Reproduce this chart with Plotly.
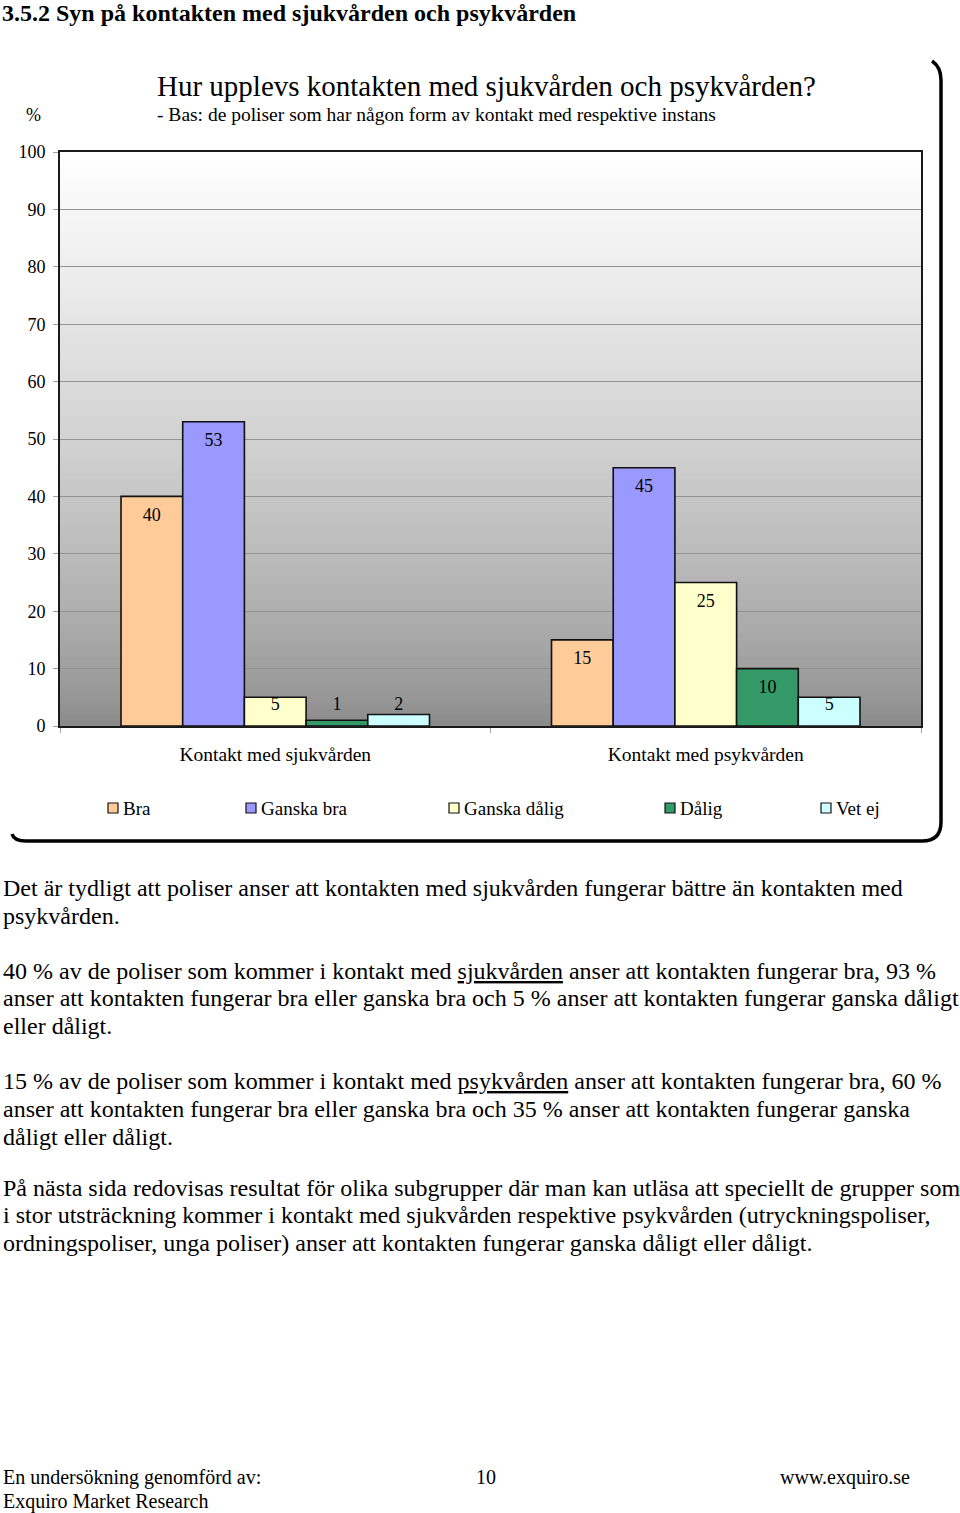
import plotly.graph_objects as go

# ---------------- data ----------------
categories = ["Kontakt med sjukvården", "Kontakt med psykvården"]
series_names = ["Bra", "Ganska bra", "Ganska dålig", "Dålig", "Vet ej"]
bra = [40, 15]
ganska_bra = [53, 45]
ganska_dalig = [5, 25]
dalig = [1, 10]
vet_ej = [2, 5]
series_values = [bra, ganska_bra, ganska_dalig, dalig, vet_ej]
y_ticks = [0, 10, 20, 30, 40, 50, 60, 70, 80, 90, 100]

colors = ["#FFCC99", "#9999FF", "#FFFFCC", "#339966", "#CCFFFF"]

W, H = 960, 1513
FONT = "Liberation Serif"


def px(x):
    return x / W


def py(y):
    return 1 - y / H


bar_w = 0.1433
cat_idx = list(range(len(categories)))

fig = go.Figure()

# bars
for i, (name, vals) in enumerate(zip(series_names, series_values)):
    off = (i - (len(series_names) - 1) / 2) * bar_w
    xs = [c + off for c in cat_idx]
    fig.add_trace(go.Bar(
        x=xs, y=vals, width=bar_w, name=name,
        marker=dict(color=colors[i], line=dict(color="#111111", width=1.6)),
        showlegend=False, hoverinfo="y+name",
    ))
    fig.add_trace(go.Scatter(
        x=xs, y=[max(v - 3.5, 3.5) for v in vals],
        mode="text", text=[str(v) for v in vals],
        textposition="middle center",
        textfont=dict(family=FONT, size=18, color="#000000"),
        showlegend=False, hoverinfo="skip",
    ))

shapes = []
# gradient background of plot area (white top -> gray bottom); overlapping bands avoid seams
nb = 100
for k in range(nb):
    v0 = 100 * k / nb
    t = (v0 + 0.5) / 100
    c = int(round(136 + 119 * t ** 0.7))
    shapes.append(dict(type="rect", xref="x domain", yref="y", x0=0, x1=1,
                       y0=v0, y1=100, fillcolor=f"rgb({c},{c},{c})",
                       line=dict(width=0), layer="below"))

# outer rounded frame (shadow edge right + bottom)
frame = (f"M {px(12)},{py(834)} Q {px(14)},{py(841)} {px(26)},{py(841)} "
         f"L {px(922)},{py(841)} Q {px(941)},{py(841)} {px(941)},{py(822)} "
         f"L {px(941)},{py(80)} Q {px(941)},{py(67)} {px(932)},{py(61)}")
shapes.append(dict(type="path", xref="paper", yref="paper", path=frame,
                   line=dict(color="#000000", width=3.5)))

# custom legend markers
legend_marker_x = [108, 246, 449, 665, 821]
legend_y = 808
for i, name in enumerate(series_names):
    shapes.append(dict(type="rect", xref="paper", yref="paper",
                       x0=px(legend_marker_x[i]), x1=px(legend_marker_x[i] + 10),
                       y0=py(legend_y + 5), y1=py(legend_y - 5),
                       fillcolor=colors[i], line=dict(color="#111111", width=1.2)))

annotations = []


def txt(x, y, s, size, bold=False, anchor="left"):
    annotations.append(dict(
        x=px(x), y=py(y), xref="paper", yref="paper", text=("<b>%s</b>" % s) if bold else s,
        showarrow=False, xanchor=anchor, yanchor="middle",
        font=dict(family=FONT, size=size, color="#000000")))


for i, name in enumerate(series_names):
    txt(legend_marker_x[i] + 13, legend_y, name, 19)

txt(0, 13, "3.5.2 Syn på kontakten med sjukvården och psykvården", 24, bold=True)
txt(155, 86, "Hur upplevs kontakten med sjukvården och psykvården?", 29)
txt(155, 115, "- Bas: de poliser som har någon form av kontakt med respektive instans", 19.5)
txt(24, 115, "%", 18)

body = [
    (888, "Det är tydligt att poliser anser att kontakten med sjukvården fungerar bättre än kontakten med"),
    (916, "psykvården."),
    (971, "40 % av de poliser som kommer i kontakt med <u>sjukvården</u> anser att kontakten fungerar bra, 93 %"),
    (998, "anser att kontakten fungerar bra eller ganska bra och 5 % anser att kontakten fungerar ganska dåligt"),
    (1026, "eller dåligt."),
    (1081, "15 % av de poliser som kommer i kontakt med <u>psykvården</u> anser att kontakten fungerar bra, 60 %"),
    (1109, "anser att kontakten fungerar bra eller ganska bra och 35 % anser att kontakten fungerar ganska"),
    (1137, "dåligt eller dåligt."),
    (1188, "På nästa sida redovisas resultat för olika subgrupper där man kan utläsa att speciellt de grupper som"),
    (1215, "i stor utsträckning kommer i kontakt med sjukvården respektive psykvården (utryckningspoliser,"),
    (1243, "ordningspoliser, unga poliser) anser att kontakten fungerar ganska dåligt eller dåligt."),
]
for y, s in body:
    txt(1, y, s, 24)

txt(1, 1477, "En undersökning genomförd av:", 20)
txt(1, 1501, "Exquiro Market Research", 20)
txt(474, 1477, "10", 20)
txt(778, 1477, "www.exquiro.se", 20)

fig.update_layout(
    width=W, height=H,
    margin=dict(l=0, r=0, t=0, b=0, pad=0),
    paper_bgcolor="#ffffff", plot_bgcolor="rgba(0,0,0,0)",
    template="none",
    barmode="overlay",
    showlegend=False,
    shapes=shapes,
    annotations=annotations,
    font=dict(family=FONT, size=17, color="#000000"),
    xaxis=dict(
        domain=[px(60), px(921)],
        range=[-0.5, len(categories) - 0.5],
        tickvals=cat_idx, ticktext=categories,
        ticks="", showgrid=False, zeroline=False,
        showline=True, mirror=True, linecolor="#1a1a1a", linewidth=2,
        tickfont=dict(family=FONT, size=19.5, color="#000000"),
        ticklabelstandoff=10,
        minor=dict(tickvals=[-0.5, 0.5, 1.5], ticks="outside", ticklen=5,
                   tickcolor="#a0a0a0", tickwidth=1, showgrid=False),
        automargin=False, fixedrange=True,
    ),
    yaxis=dict(
        domain=[py(726), py(152)],
        range=[0, 100],
        tickvals=y_ticks, ticktext=[str(v) for v in y_ticks],
        ticks="outside", ticklen=5, tickcolor="#a0a0a0", tickwidth=1,
        showgrid=True, gridcolor="#939393", gridwidth=1, zeroline=False,
        showline=True, mirror=True, linecolor="#1a1a1a", linewidth=2,
        tickfont=dict(family=FONT, size=18, color="#000000"),
        ticklabelstandoff=4,
        automargin=False, fixedrange=True,
    ),
)

fig.write_html("out.html")
